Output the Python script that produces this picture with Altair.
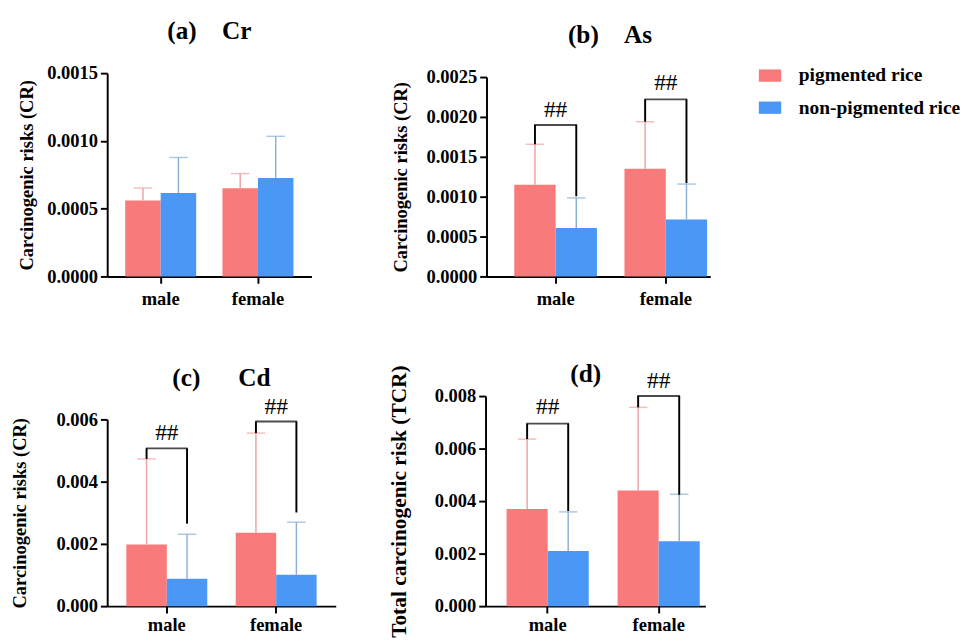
import altair as alt
import pandas as pd

categories = ["male", "female"]
groups = ["pigmented rice", "non-pigmented rice"]

# (a) Cr
cr_pig = [0.00056, 0.00065]
cr_pig_up = [0.000653, 0.000759]
cr_non = [0.000615, 0.000727]
cr_non_up = [0.000878, 0.001034]

# (b) As
as_pig = [0.00115, 0.00135]
as_pig_up = [0.001657, 0.00194]
as_non = [0.000606, 0.000715]
as_non_up = [0.000984, 0.001158]
as_br_top = [0.0019, 0.00222]
as_br_right = [0.001005, 0.00117]
as_mark_y = [0.00208, 0.00242]

# (c) Cd
cd_pig = [0.00198, 0.00236]
cd_pig_up = [0.00473, 0.00556]
cd_non = [0.00088, 0.00101]
cd_non_up = [0.00231, 0.0027]
cd_br_top = [0.00507, 0.00593]
cd_br_right = [0.00265, 0.00301]
cd_mark_y = [0.00556, 0.0064]

# (d) TCR
tcr_pig = [0.0037, 0.0044]
tcr_pig_up = [0.00636, 0.00757]
tcr_non = [0.0021, 0.00247]
tcr_non_up = [0.00359, 0.00426]
tcr_br_top = [0.00695, 0.008]
tcr_br_right = [0.00362, 0.00424]
tcr_mark_y = [0.00757, 0.00856]

FONT = "Times New Roman, Liberation Serif, serif"
BAR_COLORS = ["#F97A7A", "#4B97F5"]
ERR_COLORS = ["#EFA3A3", "#8AB0D6"]
NB = "\u00a0"


def bars_df(pig, pig_up, non, non_up):
    rows = []
    for i, c in enumerate(categories):
        rows.append({"cat": c, "group": groups[0], "mean": pig[i], "up": pig_up[i]})
        rows.append({"cat": c, "group": groups[1], "mean": non[i], "up": non_up[i]})
    return pd.DataFrame(rows)


def bracket_df(pig_up, top, right, mark_y):
    legs, tops = [], []
    for i, c in enumerate(categories):
        legs.append({"cat": c, "group": groups[0], "top": top[i], "bottom": pig_up[i]})
        legs.append({"cat": c, "group": groups[1], "top": top[i], "bottom": right[i]})
        tops.append({"cat": c, "top": top[i], "my": mark_y[i], "lab": "##"})
    return pd.DataFrame(legs), pd.DataFrame(tops)


def make_legend(show):
    if not show:
        return None
    return alt.Legend(
        title=None, orient="none", legendX=280, legendY=-9,
        symbolType="M-1,-0.55L1,-0.55L1,0.55L-1,0.55Z", symbolSize=529,
        symbolStrokeWidth=0, symbolOpacity=1,
        labelFont=FONT, labelFontSize=20, labelFontWeight="bold", labelColor="black",
        labelOffset=18, rowPadding=11, direction="vertical", labelLimit=400,
    )


def panel(df, title, title_dx, title_offset, width, height, yrange, ydomain,
          yvalues, yfmt, ytitle, tpad, pin, pout, align, bw, xlabpad,
          legs=None, tops=None, show_legend=False, ytitle_size=19):
    xenc = alt.X("cat:N", sort=categories,
                 scale=alt.Scale(domain=categories, paddingInner=pin,
                                 paddingOuter=pout, align=align),
                 axis=alt.Axis(title=None, labelAngle=0, labelPadding=xlabpad,
                               labelFont=FONT, labelFontSize=19, labelFontWeight="bold",
                               labelColor="black"))
    xoff = alt.XOffset("group:N", sort=groups,
                       scale=alt.Scale(domain=groups, paddingInner=0, paddingOuter=0))

    def yenc(field):
        return alt.Y(field, type="quantitative",
                     scale=alt.Scale(domain=ydomain, range=yrange, nice=False, zero=True),
                     axis=alt.Axis(values=yvalues, format=yfmt, title=ytitle,
                                   titlePadding=tpad, labelPadding=3,
                                   labelFont=FONT, labelFontSize=19, labelFontWeight="bold",
                                   labelColor="black", titleFont=FONT,
                                   titleFontSize=ytitle_size,
                                   titleFontWeight="bold", titleColor="black"))

    leg = make_legend(show_legend)
    cenc = alt.Color("group:N", sort=groups,
                     scale=alt.Scale(domain=groups, range=BAR_COLORS),
                     legend=leg)
    base = alt.Chart(df)
    layers = [
        base.mark_bar().encode(x=xenc, xOffset=xoff, y=yenc("mean"), color=cenc)
    ]
    for g, col in zip(groups, ERR_COLORS):
        sub = base.transform_filter(alt.datum.group == g)
        layers.append(sub.mark_rule(color=col, strokeWidth=1.5).encode(
            x=xenc, xOffset=xoff, y=yenc("mean"), y2="up"))
        layers.append(sub.mark_tick(color=col, thickness=1.5, size=19,
                                    orient="horizontal").encode(
            x=xenc, xOffset=xoff, y=yenc("up")))
    if legs is not None:
        layers.append(alt.Chart(legs).mark_rule(color="black", strokeWidth=2).encode(
            x=xenc, xOffset=xoff, y=yenc("top"), y2="bottom"))
        layers.append(alt.Chart(tops).mark_tick(color="black", thickness=2, size=bw + 2,
                                                orient="horizontal").encode(
            x=xenc, y=yenc("top")))
        layers.append(alt.Chart(tops).mark_text(font=FONT, fontSize=24, baseline="middle",
                                                color="black").encode(
            x=xenc, y=yenc("my"), text="lab:N"))
    return alt.layer(*layers).properties(
        width=width, height=height,
        title=alt.TitleParams(text=title, dx=title_dx, offset=title_offset, frame="group",
                              font=FONT, fontSize=26, fontWeight="bold", color="black"),
    )


pa = panel(bars_df(cr_pig, cr_pig_up, cr_non, cr_non_up),
           "(a)" + NB * 4 + "Cr", 0, 21, 210, 209, [209, 0], [0, 0.0015],
           [0, 0.0005, 0.001, 0.0015], ".4f", "Carcinogenic risks (CR)", 11,
           0.27, 0.185, 0.5, 36, 7)

lb, tb = bracket_df(as_pig_up, as_br_top, as_br_right, as_mark_y)
pb = panel(bars_df(as_pig, as_pig_up, as_non, as_non_up),
           "(b)" + NB * 4 + "As", 12, 17, 230, 209, [209, 4], [0, 0.0025],
           [0, 0.0005, 0.001, 0.0015, 0.002, 0.0025], ".4f", "Carcinogenic risks (CR)", 16,
           0.25, 0.14, 0.9, 42, 7, lb, tb, show_legend=True)

lc, tc = bracket_df(cd_pig_up, cd_br_top, cd_br_right, cd_mark_y)
pc = panel(bars_df(cd_pig, cd_pig_up, cd_non, cd_non_up),
           "(c)" + NB * 6 + "Cd", 0, 5, 235, 216, [216, 24], [0, 0.006],
           [0, 0.002, 0.004, 0.006], ".3f", "Carcinogenic risks (CR)", 27,
           0.26, 0.175, 0.5, 41, 3, lc, tc)

ld, td = bracket_df(tcr_pig_up, tcr_br_top, tcr_br_right, tcr_mark_y)
pd_ = panel(bars_df(tcr_pig, tcr_pig_up, tcr_non, tcr_non_up),
            "(d)", -10, -23, 226, 216, [216, 0], [0, 0.008],
            [0, 0.002, 0.004, 0.006, 0.008], ".3f", "Total carcinogenic risk (TCR)", 25,
            0.26, 0.12, 0.79, 42, 3, ld, td, ytitle_size=22)

res = dict(x="independent", y="independent", xOffset="independent", color="independent")
row1 = alt.hconcat(pa, pb, spacing=82).resolve_scale(**res)
row2 = alt.hconcat(pc, pd_, spacing=53).resolve_scale(**res)

chart = alt.vconcat(row1, row2, spacing=54).resolve_scale(**res).configure(
    padding={"left": 3, "top": 2, "right": 5, "bottom": 0}, font=FONT,
).configure_view(stroke=None).configure_axis(
    domainColor="black", domainWidth=2, tickColor="black", tickWidth=2, tickSize=7,
    grid=False,
)

chart.save("out.html", embed_options={"renderer": "svg", "actions": False})
